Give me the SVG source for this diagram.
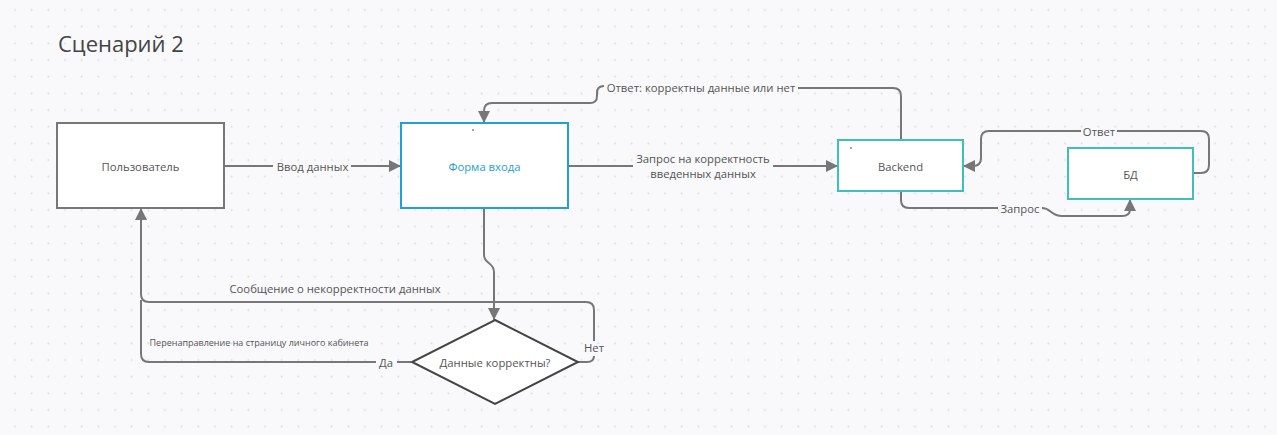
<svg xmlns="http://www.w3.org/2000/svg" width="1277" height="435" viewBox="0 0 1277 435">
<defs>
<pattern id="grid" patternUnits="userSpaceOnUse" x="6.667" y="1.667" width="16.667" height="16.667">
<circle cx="8.333" cy="8.333" r="0.9" fill="#d6d6de"/>
</pattern>
<marker id="arr" markerUnits="userSpaceOnUse" markerWidth="12" markerHeight="12" refX="10" refY="5" orient="auto" viewBox="0 0 10 10">
<path d="M0,0 L10,5 L0,10 z" fill="#777"/>
</marker>
<style>
.bg{fill:#f9f9fb}
.node{fill:#ffffff;stroke-width:2}
.grey{stroke:#777}
.blue{stroke:#1ea0d8}
.teal{stroke:#3dbfbf}
.t{font-family:"Open Sans","Noto Sans","Liberation Sans",sans-serif;font-size:11.3px;fill:#555;text-anchor:middle;dominant-baseline:central}
.c{fill:none;stroke:#777;stroke-width:2}
.a{marker-end:url(#arr)}
</style>
</defs>
<rect class="bg" x="0" y="0" width="1277" height="435"/>
<rect x="0" y="0" width="1277" height="435" fill="url(#grid)"/>
<text x="58" y="52" font-family="'Open Sans','Noto Sans','Liberation Sans',sans-serif" font-size="22" fill="#444">Сценарий 2</text>

<g id="connectors">
<path class="c" d="M224,166 H273"/>
<path class="c a" d="M351,166 H401"/>
<path class="c" d="M568,166 H633"/>
<path class="c a" d="M773,166 H838"/>
<path class="c" d="M901,140 V96 Q901,88 893,88 H798"/>
<path class="c a" d="M604,86 Q597,86 597,93 V96 Q597,103 590,103 H492 Q484,103 484,111 V123"/>
<path class="c" d="M901,191 V200 Q901,208 909,208 H998"/>
<path class="c a" d="M1042,208 C1051,208 1051,216 1062,216 H1122 Q1130,216 1130,209 V199"/>
<path class="c" d="M1193,173 H1201 Q1209,173 1209,165 V139 Q1209,131 1201,131 H1117"/>
<path class="c a" d="M1081,131 H989 Q981,131 981,139 V158 Q981,166 973,166 H963"/>
<path class="c a" d="M484,208 V255 C484,264 494,262 494,272 V320"/>
<path class="c" d="M578,362 H587 Q594,362 594,356"/>
<path class="c a" d="M594,341 V310 Q594,302 586,302 H149 Q141,302 141,294 V208"/>
<path class="c" d="M411,362 H397"/>
<path class="c" d="M376,362 H149 Q141,362 141,354 V300"/>
<text class="t" x="312.5" y="166">Ввод данных</text>
<text class="t" x="703" y="158">Запрос на корректность</text>
<text class="t" x="703" y="173">введенных данных</text>
<text class="t" x="701" y="87">Ответ: корректны данные или нет</text>
<text class="t" x="1020" y="208">Запрос</text>
<text class="t" x="1099" y="131">Ответ</text>
<text class="t" x="335" y="288">Сообщение о некорректности данных</text>
<text class="t" x="259" y="342" style="font-size:9px">Перенаправление на страницу личного кабинета</text>
<text class="t" x="386" y="362">Да</text>
<text class="t" x="594" y="347">Нет</text>
</g>

<g id="node-user">
<rect class="node grey" x="57" y="123" width="167" height="85"/>
<text class="t" x="140.5" y="166">Пользователь</text>
</g>
<g id="node-form">
<rect class="node blue" x="401" y="123" width="167" height="85"/>
<circle cx="473" cy="130" r="0.8" fill="#333"/>
<text class="t" x="484.5" y="166" style="fill:#1ea0d8">Форма входа</text>
</g>
<g id="node-backend">
<rect class="node teal" x="838" y="140" width="125" height="51"/>
<circle cx="851" cy="148" r="0.8" fill="#333"/>
<text class="t" x="900.5" y="166">Backend</text>
</g>
<g id="node-db">
<rect class="node teal" x="1068" y="148" width="125" height="51"/>
<text class="t" x="1130.5" y="174">БД</text>
</g>
<g id="node-decision">
<polygon class="node" points="495,320 578,362 495,404 412,362" style="stroke:#444"/>
<text class="t" x="495" y="362">Данные корректны?</text>
</g>
</svg>
